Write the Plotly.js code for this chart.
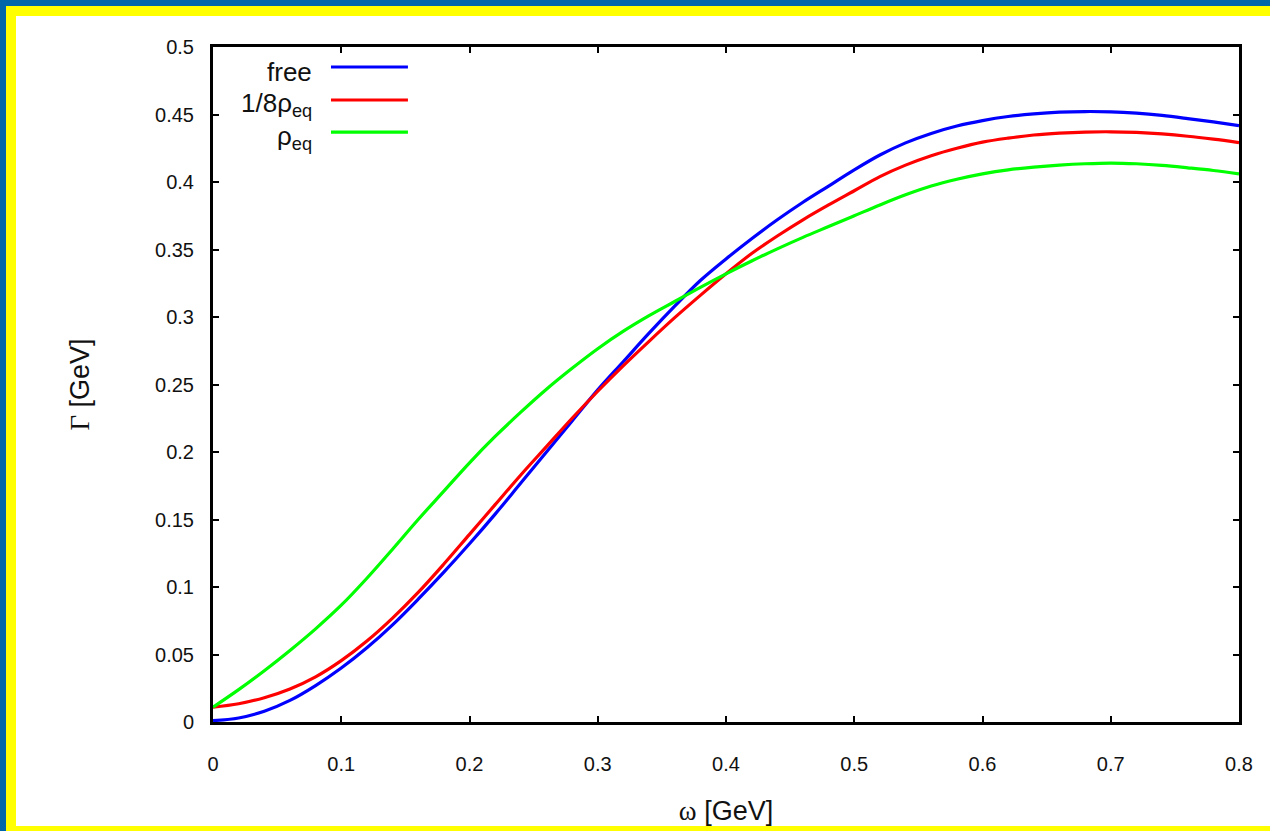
<!DOCTYPE html>
<html>
<head>
<meta charset="utf-8">
<script src="https://cdn.plot.ly/plotly-3.0.1.min.js"></script>
<style>
  html, body { margin: 0; padding: 0; background: #ffffff; }
  #wrap { position: relative; width: 1270px; height: 831px; overflow: hidden; }
  #chart { position: absolute; left: 0; top: 0; width: 1270px; height: 831px; }
  .bar { position: absolute; pointer-events: none; }
</style>
</head>
<body>
<div id="wrap">
  <div id="chart"></div>
  <div class="bar" style="left:0;top:0;width:1270px;height:6px;background:#0066aa;"></div>
  <div class="bar" style="left:0;top:0;width:6px;height:831px;background:#0066aa;"></div>
  <div class="bar" style="left:6px;top:6px;width:1264px;height:10px;background:#ffff00;"></div>
  <div class="bar" style="left:6px;top:6px;width:10px;height:825px;background:#ffff00;"></div>
  <div class="bar" style="left:6px;top:826px;width:1264px;height:5px;background:#ffff00;"></div>
</div>
<script>
// omega [GeV]
const omega = [0, 0.02, 0.04, 0.06, 0.08, 0.10, 0.12, 0.14, 0.16, 0.18, 0.20,
  0.22, 0.24, 0.26, 0.28, 0.30, 0.32, 0.34, 0.36, 0.38, 0.40,
  0.42, 0.44, 0.46, 0.48, 0.50, 0.52, 0.54, 0.56, 0.58, 0.60,
  0.62, 0.64, 0.66, 0.68, 0.70, 0.72, 0.74, 0.76, 0.78, 0.80];

// Gamma [GeV], free
const gammaFree = [0.001, 0.003, 0.008, 0.016, 0.027, 0.040, 0.055, 0.072, 0.091, 0.111, 0.132,
  0.154, 0.177, 0.200, 0.223, 0.246, 0.267, 0.288, 0.308, 0.327, 0.343,
  0.358, 0.372, 0.385, 0.397, 0.409, 0.420, 0.429, 0.436, 0.4415, 0.4455,
  0.4485, 0.4505, 0.4518, 0.4522, 0.452, 0.451, 0.4493, 0.447, 0.4445, 0.4418];

// Gamma [GeV], 1/8 rho_eq
const gammaEighth = [0.011, 0.0135, 0.018, 0.0245, 0.0335, 0.0455, 0.060, 0.077, 0.096, 0.117, 0.139,
  0.161, 0.183, 0.204, 0.225, 0.245, 0.264, 0.282, 0.2995, 0.316, 0.332,
  0.347, 0.360, 0.372, 0.383, 0.3935, 0.404, 0.4125, 0.4195, 0.425, 0.4295,
  0.4325, 0.4348, 0.4362, 0.437, 0.4372, 0.4367, 0.4356, 0.4339, 0.4317, 0.4292];

// Gamma [GeV], rho_eq
const gammaEq = [0.011, 0.024, 0.038, 0.053, 0.069, 0.0865, 0.1065, 0.128, 0.150, 0.171, 0.192,
  0.2115, 0.2295, 0.2465, 0.262, 0.2765, 0.2895, 0.301, 0.3115, 0.322, 0.332,
  0.3415, 0.3505, 0.359, 0.367, 0.375, 0.383, 0.3905, 0.397, 0.402, 0.406,
  0.409, 0.411, 0.4125, 0.4135, 0.414, 0.4135, 0.4123, 0.4105, 0.4085, 0.406];

const seriesNames = ['free', '1/8\u03c1<sub>eq</sub>', '\u03c1<sub>eq</sub>'];
const seriesColors = ['#0000ff', '#ff0000', '#00ff00'];
const seriesData = [gammaFree, gammaEighth, gammaEq];

const xTickVals = [0, 0.1, 0.2, 0.3, 0.4, 0.5, 0.6, 0.7, 0.8];
const xTickText = ['0', '0.1', '0.2', '0.3', '0.4', '0.5', '0.6', '0.7', '0.8'];
const yTickVals = [0, 0.05, 0.1, 0.15, 0.2, 0.25, 0.3, 0.35, 0.4, 0.45, 0.5];
const yTickText = ['0', '0.05', '0.1', '0.15', '0.2', '0.25', '0.3', '0.35', '0.4', '0.45', '0.5'];

const traces = seriesData.map((ys, i) => ({
  x: omega, y: ys, type: 'scatter', mode: 'lines', name: seriesNames[i],
  line: { color: seriesColors[i], width: 3.2, shape: 'spline', smoothing: 1 },
  showlegend: false, hoverinfo: 'x+y'
}));

// gnuplot-style key: text right-aligned, sample line to its right
const keyY = [0.9704, 0.9215, 0.874];
const shapes = [];
const annotations = [];
seriesNames.forEach((nm, i) => {
  shapes.push({ type: 'line', xref: 'paper', yref: 'paper', x0: 0.115, x1: 0.19,
    y0: keyY[i], y1: keyY[i], line: { color: seriesColors[i], width: 3.2 } });
  annotations.push({ xref: 'paper', yref: 'paper', x: 0.0985, y: keyY[i],
    xanchor: 'right', yanchor: 'middle', yshift: -5, showarrow: false, text: nm,
    font: { family: 'Liberation Sans, Arial, sans-serif', size: 26, color: '#111111' } });
});

const tickFont = { family: 'Liberation Sans, Arial, sans-serif', size: 20, color: '#111111' };
const titleFont = { family: 'Liberation Sans, Arial, sans-serif', size: 27, color: '#111111' };

const layout = {
  width: 1270, height: 831,
  margin: { l: 213, r: 31, t: 47, b: 109, pad: 0 },
  paper_bgcolor: '#ffffff', plot_bgcolor: '#ffffff',
  showlegend: false,
  xaxis: {
    range: [0, 0.8], tickvals: xTickVals, ticktext: xTickText,
    showgrid: false, zeroline: false, showline: true, linecolor: '#000000', linewidth: 3,
    mirror: 'ticks', ticks: 'inside', ticklen: 6, tickwidth: 2, tickcolor: '#000000',
    tickfont: tickFont, ticklabelstandoff: 22, automargin: false,
    title: { text: '<span style="font-family:Liberation Serif, Times New Roman, serif">\u03c9</span> [GeV]',
      font: titleFont, standoff: 28 }
  },
  yaxis: {
    range: [0, 0.5], tickvals: yTickVals, ticktext: yTickText,
    showgrid: false, zeroline: false, showline: true, linecolor: '#000000', linewidth: 3,
    mirror: 'ticks', ticks: 'inside', ticklen: 6, tickwidth: 2, tickcolor: '#000000',
    tickfont: tickFont, ticklabelstandoff: 12, automargin: false,
    title: { text: '<span style="font-family:Liberation Serif, Times New Roman, serif">\u0393</span> [GeV]',
      font: titleFont, standoff: 58 }
  },
  shapes: shapes,
  annotations: annotations
};

Plotly.newPlot('chart', traces, layout, { displayModeBar: false, staticPlot: true });
</script>
</body>
</html>
